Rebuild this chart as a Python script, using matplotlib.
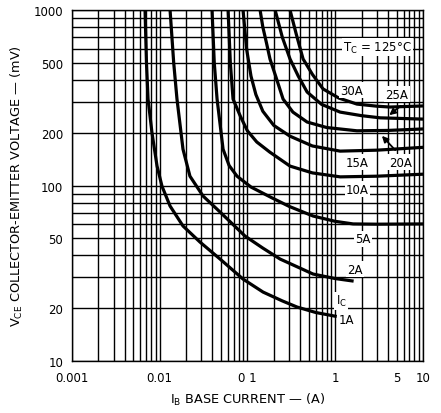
import matplotlib
matplotlib.use("Agg")
import matplotlib.pyplot as plt

# Vce(sat) vs Ib, Tc = 125C
ib_1a = [0.00684, 0.0071, 0.0074, 0.0082, 0.00937, 0.01067, 0.01318, 0.0185, 0.0289,
         0.0489, 0.0893, 0.151, 0.25, 0.368, 0.6, 1.0]
vce_1a = [1000, 500, 311, 200, 129, 99, 76.4, 58.8, 47.6, 38.1, 29.3, 24.7, 22.0, 20.3, 18.9, 18.0]

ib_2a = [0.01318, 0.0145, 0.0158, 0.0185, 0.0222, 0.0313, 0.0489, 0.0941, 0.15, 0.236,
         0.56, 1.0, 1.556]
vce_2a = [1000, 500, 311, 161, 113, 87.1, 70.6, 51.5, 44.0, 38.1, 31.3, 29.5, 28.6]

ib_5a = [0.0396, 0.042, 0.0452, 0.0529, 0.062, 0.0763, 0.11, 0.191, 0.3, 0.56, 1.0, 1.6, 3.0, 10]
vce_5a = [1000, 500, 311, 161, 130, 113, 98, 85, 76, 67, 62.5, 60.4, 60.2, 60.4]

ib_10a = [0.0603, 0.064, 0.0687, 0.083, 0.1, 0.128, 0.18, 0.306, 0.55, 1.14, 3.0, 10]
vce_10a = [1000, 500, 311, 249, 205, 177, 155, 129, 118, 112, 113, 116]

ib_15a = [0.0893, 0.098, 0.11, 0.125, 0.15, 0.2, 0.306, 0.55, 1.137, 3.0, 10]
vce_15a = [1000, 600, 420, 330, 265, 220, 191, 168, 157, 159, 165]

ib_20a = [0.1396, 0.15, 0.165, 0.181, 0.21, 0.255, 0.33, 0.479, 0.8, 1.77, 4.0, 10]
vce_20a = [1000, 800, 650, 526, 420, 311, 262, 230, 214, 205, 206, 210]

ib_25a = [0.207, 0.25, 0.306, 0.38, 0.479, 0.7, 1.137, 2.0, 3.25, 10]
vce_25a = [1000, 700, 526, 420, 341, 290, 262, 250, 243, 239]

ib_30a = [0.306, 0.36, 0.431, 0.55, 0.728, 1.1, 1.77, 3.0, 4.22, 10]
vce_30a = [1000, 730, 526, 430, 355, 315, 291, 283, 280, 284]

curves = [(ib_1a, vce_1a), (ib_2a, vce_2a), (ib_5a, vce_5a), (ib_10a, vce_10a),
          (ib_15a, vce_15a), (ib_20a, vce_20a), (ib_25a, vce_25a), (ib_30a, vce_30a)]

x_ticks = [0.001, 0.01, 0.1, 1, 5, 10]
x_tick_labels = ["0.001", "0.01", "0 1", "1", "5", "10"]
y_ticks = [10, 20, 50, 100, 200, 500, 1000]
y_tick_labels = ["10", "20", "50", "100", "200", "500", "1000"]

# curve labels: (text, x of left edge, y)
curve_labels = [("30A", 1.14, 350), ("25A", 3.72, 332), ("20A", 4.09, 136),
                ("15A", 1.33, 136), ("10A", 1.33, 95.5), ("5A", 1.69, 49.6),
                ("2A", 1.37, 33.4), ("1A", 1.10, 17.3)]

fig = plt.figure(figsize=(4.41, 4.14), dpi=100)
ax = fig.add_axes([0.1626, 0.1256, 0.7966, 0.8478])
ax.set_xscale("log")
ax.set_yscale("log")
ax.set_xlim(0.001, 10)
ax.set_ylim(10, 1000)

ax.grid(True, which="both", color="black", linewidth=1.0)
ax.set_axisbelow(True)

for ib, vce in curves:
    ax.plot(ib, vce, color="black", linewidth=2.3, solid_joinstyle="round")

ax.set_xticks(x_ticks)
ax.set_xticklabels(x_tick_labels)
ax.set_yticks(y_ticks)
ax.set_yticklabels(y_tick_labels)
ax.minorticks_on()
ax.tick_params(which="both", length=0, labelsize=8.5)
ax.tick_params(axis="x", pad=7)
ax.tick_params(axis="y", pad=6)
ax.xaxis.set_minor_formatter(plt.NullFormatter())
ax.yaxis.set_minor_formatter(plt.NullFormatter())
for s in ax.spines.values():
    s.set_linewidth(1.0)

box = dict(facecolor="white", edgecolor="none", pad=1.0)
for txt, x, y in curve_labels:
    ax.text(x, y, txt, fontsize=8.5, ha="left", va="center", bbox=box)
ax.text(1.01, 22.0, r"$\mathregular{I_C}$", fontsize=8.5, ha="left", va="center", bbox=box)
ax.text(1.23, 615, r"$\mathregular{T_C}$ = 125°C", fontsize=8.5, ha="left", va="center", bbox=box)

ax.annotate("", xy=(3.9, 246), xytext=(5.9, 291),
            arrowprops=dict(arrowstyle="-|>", color="black", lw=1.3, mutation_scale=9))
ax.annotate("", xy=(3.24, 197), xytext=(5.07, 155),
            arrowprops=dict(arrowstyle="-|>", color="black", lw=1.3, mutation_scale=9))

ax.set_xlabel(r"$\mathregular{I_B}$ BASE CURRENT — (A)", fontsize=9.3, labelpad=5)
ax.set_ylabel(r"$\mathregular{V_{CE}}$ COLLECTOR-EMITTER VOLTAGE — (mV)", fontsize=9.3, labelpad=6)

fig.savefig("out.png", dpi=100)
